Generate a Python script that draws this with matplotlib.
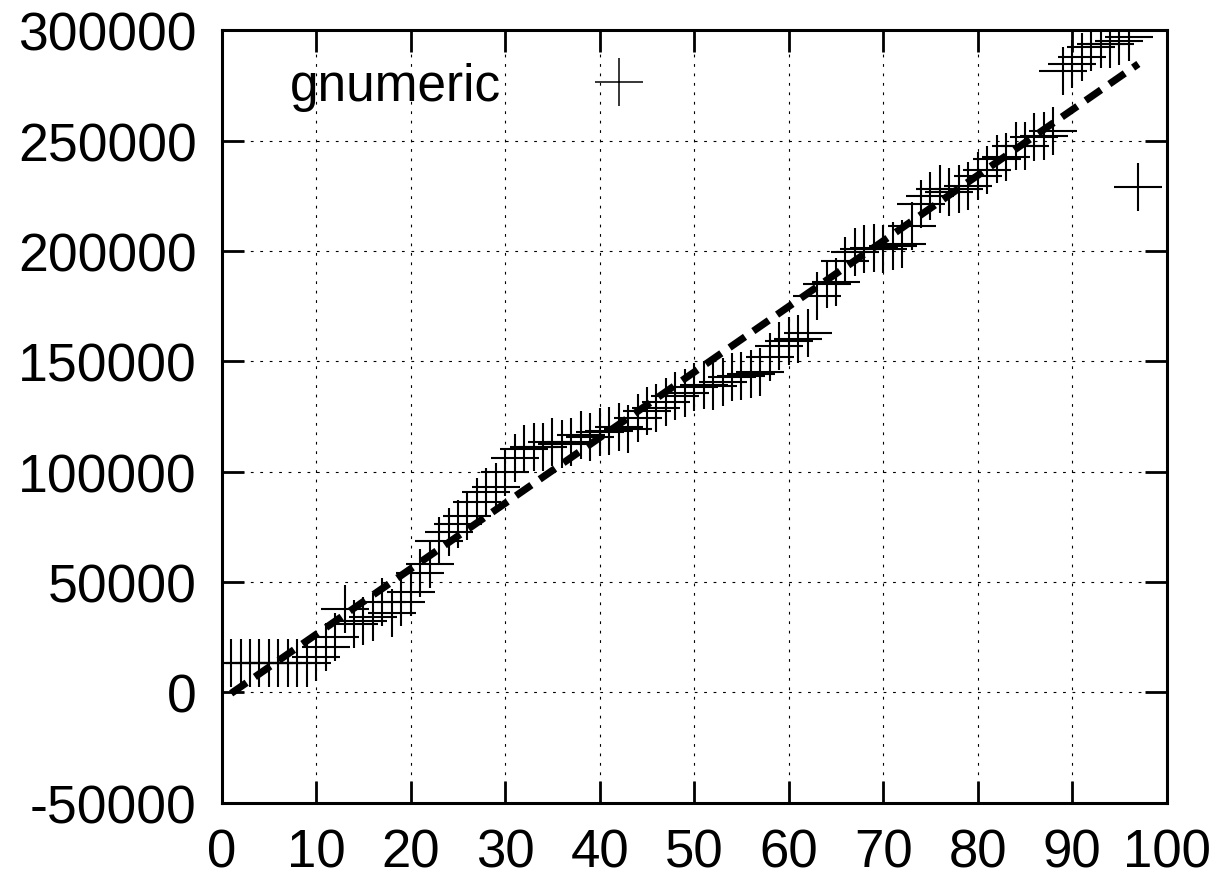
import matplotlib
matplotlib.use("Agg")
import matplotlib.pyplot as plt
import numpy as np

plt.rcParams['font.family'] = ['Liberation Sans', 'DejaVu Sans']

# data
x_vals = list(range(1, 98))
y_vals = [13300, 13300, 13300, 13300, 13300, 13300, 13300, 13300, 13300,  # 1-9
          15900, 20400, 25000, 37800, 31000, 32500, 34000, 40800, 36000, 40800,  # 10-19
          45500, 54000, 58000, 68700, 72800, 76300, 80000, 86400, 90700, 92900,  # 20-29
          99700, 106100, 110300, 111000, 111000, 113600, 112600, 113300, 116600, 115600,  # 30-39
          118000, 118600, 120100, 119400, 124200, 127700, 128700, 131500, 134200, 135700,  # 40-49
          138300, 139300, 139000, 140800, 142800, 143500, 144300, 145000, 152000, 157000,  # 50-59
          159400, 160100, 162700, 179500, 185100, 185900, 195600, 199400, 201000, 201300,  # 60-69
          201000, 202500, 203200, 211500, 221500, 225100, 228200, 226600, 228200, 229700,  # 70-79
          234200, 236500, 241700, 242500, 247800, 247800, 251600, 252300, 254600, 281800,  # 80-89
          284800, 287800, 292400, 293900, 293900, 295400, 296900, 228900]  # 90-97

fit_x = [1, 97]
fit_y = [-500, 284800]

series_label = "gnumeric"
x_ticks = [0, 10, 20, 30, 40, 50, 60, 70, 80, 90, 100]
y_ticks = [-50000, 0, 50000, 100000, 150000, 200000, 250000, 300000]

W, H = 1222, 879
fig = plt.figure(figsize=(W / 100, H / 100), dpi=100)
ax = fig.add_axes([221.7 / W, 1 - 803.6 / H, (1166.7 - 221.7) / W, (803.6 - 31.4) / H])

ax.plot(x_vals, y_vals, linestyle='none', marker='+', markersize=34,
        markeredgewidth=1.5, color='black', label=series_label, zorder=3)
ax.plot(fit_x, fit_y, color='black', linewidth=5.2, linestyle=(0, (2.6, 1.4)),
        dash_capstyle='butt', zorder=4)

ax.set_xlim(0, 100)
ax.set_ylim(-50000, 300000)
ax.set_xticks(x_ticks)
ax.set_yticks(y_ticks)
ax.set_xticklabels([str(t) for t in x_ticks])
ax.set_yticklabels([str(t) for t in y_ticks])

ax.tick_params(axis='both', which='major', direction='in', length=16, width=2.0,
               top=True, right=True, labelsize=38.5, colors='black')
ax.tick_params(axis='x', pad=18, labelsize=38)
ax.tick_params(axis='y', pad=18)

for sp in ax.spines.values():
    sp.set_linewidth(2.2)
    sp.set_color('black')

ax.grid(True, color='black', linewidth=0.8, linestyle=(0, (2.5, 6)))
ax.set_axisbelow(True)

leg = ax.legend(loc='center left', bbox_to_anchor=(290 / W, 1 - 87 / H),
                bbox_transform=fig.transFigure, frameon=False, markerfirst=False,
                fontsize=37, handlelength=2.0, handletextpad=1.3, borderpad=0,
                borderaxespad=0, markerscale=1.0)
for h in leg.legend_handles:
    h.set_markeredgewidth(1.1)

fig.savefig("out.png", dpi=100)
